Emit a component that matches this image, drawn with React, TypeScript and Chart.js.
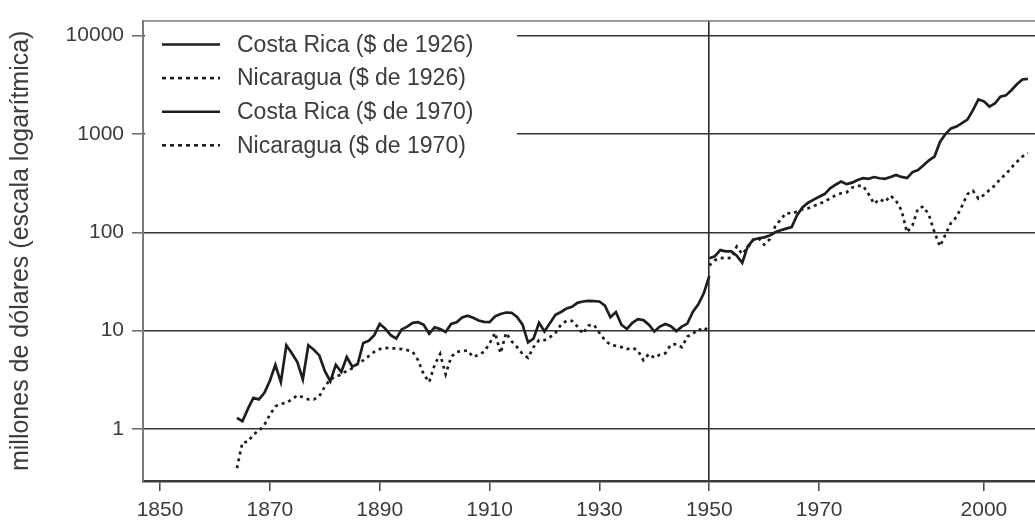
import React, { useEffect, useRef } from 'react';
import { Chart, registerables } from 'chart.js';

Chart.register(...registerables);

// ---- data ----
const START_1926 = 1864; // first year of the series in $ de 1926
const START_1970 = 1950; // first year of the series in $ de 1970

const costaRica1926 = [
  1.3, 1.2, 1.6, 2.07, 2.0, 2.33, // 1864-1869
  3.1, 4.5, 3.0, 7.1, 5.9, 4.8, 3.2, 7.1, 6.4, 5.6, // 1870s
  3.9, 3.05, 4.5, 3.8, 5.4, 4.3, 4.6, 7.5, 7.9, 9.0, // 1880s
  11.7, 10.5, 9.0, 8.3, 10.3, 11.0, 12.0, 12.2, 11.5, 9.3, // 1890s
  10.8, 10.4, 9.7, 11.7, 12.2, 13.6, 14.2, 13.5, 12.7, 12.3, // 1900s
  12.2, 14.0, 14.8, 15.3, 15.2, 13.8, 11.5, 7.6, 8.3, 12.0, // 1910s
  9.8, 12.0, 14.5, 15.5, 16.8, 17.5, 19.2, 19.8, 20.1, 20.0, // 1920s
  19.8, 18.0, 13.7, 15.5, 11.5, 10.4, 12.0, 13.1, 12.8, 11.5, // 1930s
  9.8, 11.0, 11.7, 11.1, 9.9, 11.0, 11.8, 15.5, 18.5, 24, // 1940s
  36, // 1950
];

const nicaragua1926 = [
  0.4, 0.73, 0.74, 0.88, 0.96, 1.1, // 1864-1869
  1.4, 1.7, 1.8, 1.85, 2.0, 2.2, 2.1, 2.0, 2.0, 2.15, // 1870s
  2.7, 3.2, 3.4, 3.6, 3.9, 4.15, 4.6, 5.0, 5.5, 6.1, // 1880s
  6.5, 6.7, 6.6, 6.6, 6.5, 6.35, 6.1, 5.0, 3.6, 3.0, // 1890s
  4.5, 5.8, 3.6, 5.4, 6.1, 6.2, 6.3, 5.4, 5.7, 6.1, // 1900s
  7.4, 9.5, 5.9, 9.5, 7.8, 6.8, 5.8, 5.3, 6.8, 8.0, // 1910s
  8.0, 8.6, 9.5, 11.5, 12.6, 12.6, 11.0, 9.3, 11.3, 11.5, // 1920s
  9.5, 8.0, 7.2, 7.0, 6.8, 6.5, 6.7, 6.3, 5.0, 5.8, // 1930s
  5.3, 5.7, 5.9, 7.2, 7.3, 6.8, 8.7, 9.3, 10.4, 9.9, // 1940s
  11.3, // 1950
];

const costaRica1970 = [
  54.6, 57, 66, 64, 64, 58, 49, 72, 84, 87, // 1950s
  89, 93, 100, 105, 109, 113, 150, 180, 200, 215, // 1960s
  230, 245, 280, 305, 328, 309, 320, 340, 356, 350, // 1970s
  365, 355, 350, 365, 383, 366, 356, 410, 430, 480, // 1980s
  540, 590, 830, 1000, 1140, 1190, 1290, 1400, 1750, 2250, // 1990s
  2150, 1900, 2040, 2400, 2470, 2790, 3200, 3580, 3640, // 2000-2008
];

const nicaragua1970 = [
  46, 52, 55, 54.6, 55, 71.7, 60, 70, 84, 87, // 1950s
  75, 85, 115, 135, 158, 155, 163, 172, 176, 185, // 1960s
  195, 205, 222, 238, 250, 255, 285, 297, 297, 245, // 1970s
  195, 218, 203, 236, 210, 167, 100, 118, 175, 183, // 1980s
  150, 100, 72, 95, 125, 143, 185, 245, 265, 220, // 1990s
  240, 270, 300, 350, 390, 455, 520, 590, 640, // 2000-2008
];

const seriesLabels = [
  'Costa Rica ($ de 1926)',
  'Nicaragua ($ de 1926)',
  'Costa Rica ($ de 1970)',
  'Nicaragua ($ de 1970)',
];
const xTickYears = [1850, 1870, 1890, 1910, 1930, 1950, 1970, 2000];
const yTickValues = [1, 10, 100, 1000, 10000];
const yAxisTitle = 'millones de dólares (escala logarítmica)';

const FONT = "'Liberation Sans', Arial, Helvetica, sans-serif";
const TEXT = '#3c3c3c';
const LINE = '#1e1e1e';
const DOTS = [3, 4];

const toPoints = (start: number, vals: number[]) =>
  vals.map((v, i) => ({ x: start + i, y: v }));

const frameAndLegend = {
  id: 'frameAndLegend',
  beforeDatasetsDraw(chart: any) {
    const { ctx, chartArea } = chart;
    ctx.save();
    ctx.strokeStyle = '#7a7a7a';
    ctx.lineWidth = 1.5;
    ctx.beginPath();
    ctx.moveTo(chartArea.left, chartArea.top + 0.5);
    ctx.lineTo(chartArea.right, chartArea.top + 0.5);
    ctx.stroke();
    ctx.restore();
  },
  afterDraw(chart: any) {
    const { ctx, chartArea } = chart;
    ctx.save();
    const boxLeft = chartArea.left + 2;
    const boxTop = chartArea.top + 2;
    ctx.fillStyle = '#ffffff';
    ctx.fillRect(boxLeft, boxTop, 517 - boxLeft, 172 - boxTop);
    chart.data.datasets.forEach((ds: any, i: number) => {
      const y = 44.5 + i * 33.6;
      ctx.beginPath();
      ctx.setLineDash(ds.borderDash && ds.borderDash.length ? [4, 4] : []);
      ctx.lineWidth = 2.6;
      ctx.strokeStyle = LINE;
      ctx.moveTo(162, y);
      ctx.lineTo(220, y);
      ctx.stroke();
      ctx.setLineDash([]);
      ctx.fillStyle = TEXT;
      ctx.font = `23px ${FONT}`;
      ctx.textAlign = 'left';
      ctx.textBaseline = 'middle';
      ctx.fillText(ds.label, 237, y + 1);
    });
    ctx.restore();
  },
};

export default function App() {
  const canvasRef = useRef<HTMLCanvasElement | null>(null);

  useEffect(() => {
    document.body.style.margin = '0';
    const canvas = canvasRef.current;
    if (!canvas) return;

    const mk = (label: string, data: any[], dashed: boolean) => ({
      label,
      data,
      borderColor: LINE,
      backgroundColor: LINE,
      borderWidth: 2.7,
      borderDash: dashed ? DOTS : [],
      pointRadius: 0,
      fill: false,
      tension: 0,
    });

    const chart = new Chart(canvas, {
      type: 'line',
      data: {
        datasets: [
          mk(seriesLabels[0], toPoints(START_1926, costaRica1926), false),
          mk(seriesLabels[1], toPoints(START_1926, nicaragua1926), true),
          mk(seriesLabels[2], toPoints(START_1970, costaRica1970), false),
          mk(seriesLabels[3], toPoints(START_1970, nicaragua1970), true),
        ],
      },
      options: {
        responsive: false,
        animation: false,
        devicePixelRatio: 1,
        layout: { padding: { top: 14, right: 0, left: 0, bottom: 0 } },
        plugins: { legend: { display: false }, tooltip: { enabled: false } },
        scales: {
          x: {
            type: 'linear',
            min: 1846.9,
            max: 2009.3,
            afterBuildTicks: (s: any) => {
              s.ticks = xTickYears.map((v) => ({ value: v }));
            },
            afterFit: (s: any) => {
              s.height = 42;
            },
            ticks: {
              callback: (v: any) => String(v),
              font: { size: 21, family: FONT },
              color: TEXT,
              padding: 7,
              maxRotation: 0,
              autoSkip: false,
            },
            grid: {
              color: (c: any) =>
                c.tick && c.tick.value === 1950 ? '#2a2a2a' : 'rgba(0,0,0,0)',
              lineWidth: 1.6,
              tickColor: '#444',
              tickLength: 10,
              tickWidth: 1.5,
            },
            border: { color: '#3a3a3a', width: 2.5 },
          },
          y: {
            type: 'logarithmic',
            min: 0.296,
            max: 14230,
            afterBuildTicks: (s: any) => {
              s.ticks = yTickValues.map((v) => ({ value: v }));
            },
            afterFit: (s: any) => {
              s.width = 143;
            },
            ticks: {
              callback: (v: any) => String(v),
              font: { size: 21, family: FONT },
              color: TEXT,
              padding: 8,
              autoSkip: false,
            },
            grid: {
              color: '#333',
              lineWidth: 1.6,
              tickColor: '#666',
              tickLength: 11,
              tickWidth: 1.5,
            },
            border: { color: '#7a7a7a', width: 2 },
            title: {
              display: true,
              text: yAxisTitle,
              font: { size: 25, family: FONT },
              color: TEXT,
              padding: { top: 6, bottom: 0 },
            },
          },
        },
      },
      plugins: [frameAndLegend],
    } as any);

    return () => chart.destroy();
  }, []);

  return (
    <div
      style={{
        position: 'fixed',
        left: 0,
        top: 0,
        width: 1035,
        height: 523,
        background: '#fff',
      }}
    >
      <canvas ref={canvasRef} width={1035} height={523} />
    </div>
  );
}
